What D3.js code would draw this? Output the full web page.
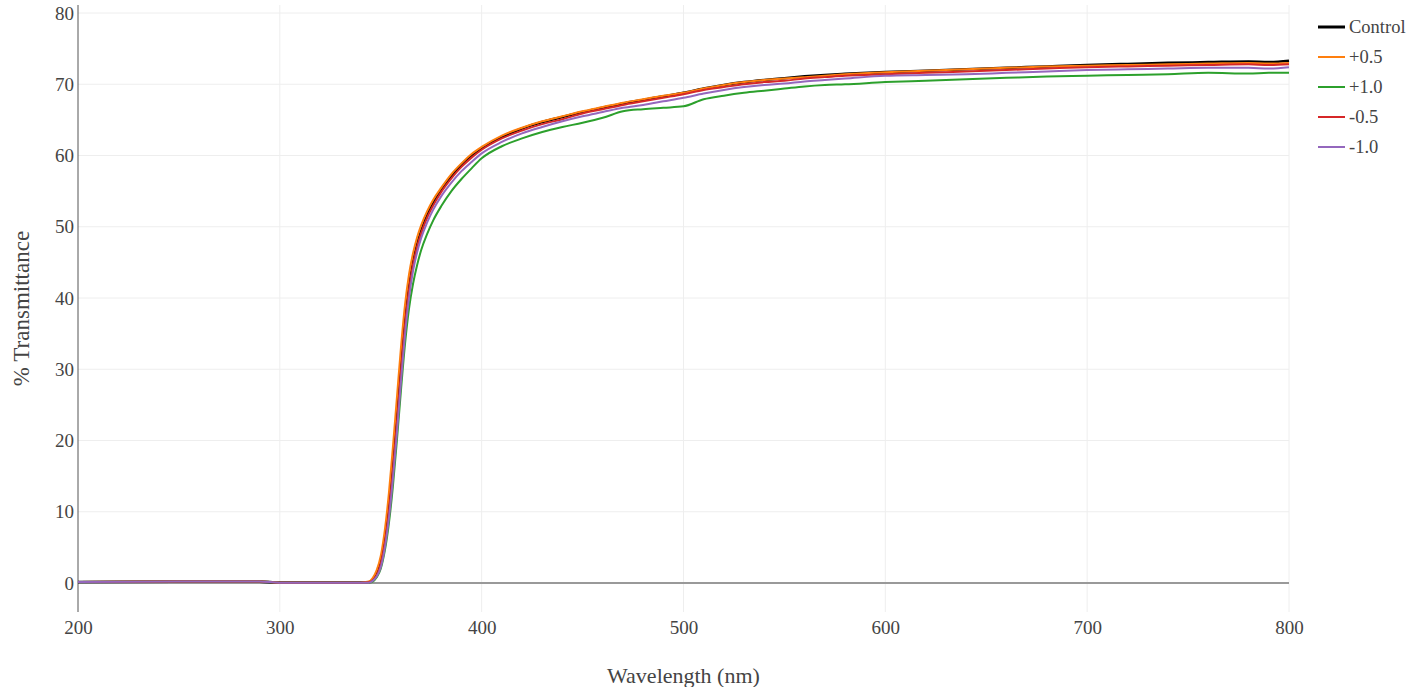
<!DOCTYPE html>
<html>
<head>
<meta charset="utf-8">
<script src="https://cdn.jsdelivr.net/npm/d3@7"></script>
<style>
  html, body { margin: 0; padding: 0; background: #fff; }
  svg { display: block; }
  text { font-family: "Liberation Serif", "Times New Roman", serif; fill: #444; }
</style>
</head>
<body>
<svg id="chart" width="1412" height="687"></svg>
<script>
// ---- Data ----
const wavelengths = [200, 250, 290, 300, 340, 344, 346, 348, 350, 352, 354, 356, 358, 360, 362, 364, 366, 368, 370, 373, 376, 380, 385, 390, 395, 400, 410, 420, 430, 440, 450, 460, 470, 480, 490, 500, 510, 520, 530, 540, 550, 560, 570, 580, 600, 620, 640, 660, 680, 700, 720, 740, 760, 780, 790, 800];

const control = [0.15, 0.2, 0.2, 0.05, 0.05, 0.1, 0.4, 1.2, 2.8, 5.8, 10.2, 16.0, 23.0, 30.0, 36.5, 41.5, 45.0, 47.5, 49.4, 51.6, 53.3, 55.2, 57.1, 58.7, 60.0, 61.0, 62.6, 63.8, 64.7, 65.4, 66.1, 66.7, 67.3, 67.8, 68.3, 68.8, 69.4, 69.9, 70.3, 70.6, 70.85, 71.1, 71.3, 71.45, 71.7, 71.9, 72.1, 72.3, 72.5, 72.7, 72.85, 73.0, 73.1, 73.2, 73.1, 73.3];

const plus05 = [0.15, 0.2, 0.2, 0.05, 0.05, 0.2, 0.7, 1.8, 3.8, 7.4, 12.5, 19.0, 26.0, 33.0, 39.0, 43.3, 46.3, 48.5, 50.2, 52.2, 53.8, 55.5, 57.4, 58.9, 60.2, 61.2, 62.8, 63.9, 64.8, 65.5, 66.2, 66.8, 67.4, 67.9, 68.4, 68.8, 69.4, 69.9, 70.3, 70.6, 70.8, 71.0, 71.2, 71.4, 71.7, 71.9, 72.1, 72.3, 72.5, 72.6, 72.7, 72.8, 72.9, 73.0, 72.9, 73.0];

const plus10 = [0.15, 0.2, 0.2, 0.05, 0.05, 0.05, 0.2, 0.8, 2.0, 4.5, 8.3, 13.5, 20.0, 27.0, 33.5, 38.5, 42.0, 44.6, 46.7, 49.0, 50.9, 52.9, 55.0, 56.7, 58.2, 59.6, 61.3, 62.4, 63.3, 64.0, 64.6, 65.3, 66.2, 66.5, 66.7, 66.9, 67.9, 68.4, 68.8, 69.1, 69.4, 69.7, 69.9, 70.0, 70.3, 70.5, 70.7, 70.9, 71.1, 71.2, 71.3, 71.4, 71.6, 71.5, 71.6, 71.6];

const minus05 = [0.15, 0.2, 0.2, 0.05, 0.05, 0.1, 0.4, 1.1, 2.7, 5.6, 10.0, 15.8, 22.5, 29.7, 36.2, 41.2, 44.7, 47.2, 49.1, 51.3, 53.0, 54.9, 56.8, 58.4, 59.7, 60.8, 62.4, 63.5, 64.4, 65.1, 65.9, 66.5, 67.1, 67.6, 68.1, 68.6, 69.2, 69.6, 70.0, 70.3, 70.5, 70.8, 71.0, 71.2, 71.4, 71.6, 71.8, 72.0, 72.2, 72.4, 72.5, 72.6, 72.7, 72.8, 72.7, 72.8];

const minus10 = [0.15, 0.2, 0.2, 0.05, 0.05, 0.05, 0.3, 0.9, 2.2, 4.9, 9.0, 14.5, 21.0, 28.2, 34.8, 40.0, 43.8, 46.4, 48.4, 50.6, 52.4, 54.3, 56.2, 57.8, 59.1, 60.3, 61.9, 63.1, 64.0, 64.8, 65.5, 66.1, 66.7, 67.1, 67.6, 68.1, 68.7, 69.2, 69.6, 69.9, 70.1, 70.4, 70.6, 70.8, 71.2, 71.3, 71.4, 71.6, 71.8, 72.0, 72.1, 72.2, 72.3, 72.3, 72.2, 72.4];

const seriesNames = ["Control", "+0.5", "+1.0", "-0.5", "-1.0"];
const seriesValues = [control, plus05, plus10, minus05, minus10];
const seriesColors = ["#000000", "#ff7f0e", "#2ca02c", "#d62728", "#9467bd"];
const seriesWidths = [2.6, 2, 2, 2, 2];

const xTicks = [200, 300, 400, 500, 600, 700, 800];
const yTicks = [0, 10, 20, 30, 40, 50, 60, 70, 80];

// ---- Chart ----
const svg = d3.select("#chart");
const x = d3.scaleLinear().domain([200, 800]).range([78, 1289]);
const y = d3.scaleLinear().domain([0, 80]).range([583, 13]);
const yTop = 5, yBottom = 612;

// grid
const grid = svg.append("g");
grid.selectAll("line.v").data(xTicks.slice(1)).join("line")
  .attr("x1", d => x(d)).attr("x2", d => x(d))
  .attr("y1", yTop).attr("y2", yBottom)
  .attr("stroke", "#eeeeee").attr("stroke-width", 1);
grid.selectAll("line.h").data(yTicks.filter(d => d !== 0)).join("line")
  .attr("x1", x(200)).attr("x2", x(800))
  .attr("y1", d => y(d)).attr("y2", d => y(d))
  .attr("stroke", "#eeeeee").attr("stroke-width", 1);

// zero line
svg.append("line")
  .attr("x1", x(200)).attr("x2", x(800))
  .attr("y1", y(0)).attr("y2", y(0))
  .attr("stroke", "#999").attr("stroke-width", 2);

// y axis line
svg.append("line")
  .attr("x1", x(200)).attr("x2", x(200))
  .attr("y1", yTop).attr("y2", yBottom)
  .attr("stroke", "#555").attr("stroke-width", 1);

// y tick labels
const yAxis = d3.axisLeft(y).tickValues(yTicks).tickSize(0).tickPadding(4).tickFormat(d3.format("d"));
const yg = svg.append("g").attr("transform", `translate(${x(200)},0)`).call(yAxis);
yg.select(".domain").remove();
yg.selectAll("text").style("font-size", "19px").attr("fill", "#444")
  .style("font-family", "'Liberation Serif', serif");

// x tick labels
const xAxis = d3.axisBottom(x).tickValues(xTicks).tickSize(0).tickPadding(9).tickFormat(d3.format("d"));
const xg = svg.append("g").attr("transform", `translate(0,${yBottom})`).call(xAxis);
xg.select(".domain").remove();
xg.selectAll("text").style("font-size", "19px").attr("fill", "#444")
  .style("font-family", "'Liberation Serif', serif");

// axis titles
svg.append("text")
  .attr("x", (x(200) + x(800)) / 2).attr("y", 683)
  .attr("text-anchor", "middle")
  .style("font-size", "22px")
  .text("Wavelength (nm)");
svg.append("text")
  .attr("transform", `translate(29,${(yTop + yBottom) / 2}) rotate(-90)`)
  .attr("text-anchor", "middle")
  .style("font-size", "23px")
  .text("% Transmittance");

// lines
const line = d3.line()
  .x((d, i) => x(wavelengths[i]))
  .y(d => y(d))
  .curve(d3.curveMonotoneX);

const linesG = svg.append("g");
seriesValues.forEach((vals, k) => {
  linesG.append("path")
    .datum(vals)
    .attr("d", line)
    .attr("fill", "none")
    .attr("stroke", seriesColors[k])
    .attr("stroke-width", seriesWidths[k])
    .attr("stroke-linejoin", "round");
});

// legend
const legend = svg.append("g");
seriesNames.forEach((name, k) => {
  const ly = 27 + k * 30;
  legend.append("line")
    .attr("x1", 1318).attr("x2", 1345)
    .attr("y1", ly).attr("y2", ly)
    .attr("stroke", seriesColors[k])
    .attr("stroke-width", k === 0 ? 3 : 2);
  legend.append("text")
    .attr("x", 1349).attr("y", ly)
    .attr("dy", "0.35em")
    .style("font-size", "18.5px")
    .text(name);
});
</script>
</body>
</html>
